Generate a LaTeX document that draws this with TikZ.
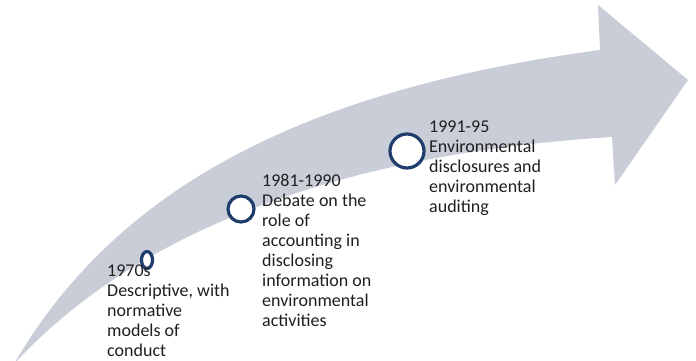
\documentclass[tikz,border=0pt]{standalone}
\usepackage{fontspec}
\setmainfont{Carlito}
\definecolor{arrowgray}{HTML}{C9CDD7}
\definecolor{ringblue}{HTML}{1F3D6C}
\begin{document}
\begin{tikzpicture}[x=1pt,y=-1pt,
  ring/.style={draw=ringblue,fill=white,line width=3.2pt},
  milestone/.style={anchor=north west,inner sep=0pt,align=left,
    font=\fontsize{18}{20}\selectfont,text=black!88}]
\useasboundingbox (0,0) rectangle (696,360);
% curved timeline arrow
\fill[arrowgray] (14,364) .. controls (115,190) and (300,90) .. (600,50)
  -- (598,5) -- (688,80) -- (615,185) -- (612,137)
  .. controls (400,150) and (160,205) .. (14,364) -- cycle;
% milestone rings
\draw[ring] (147,260) ellipse [x radius=5.5pt, y radius=8.5pt];
\node[ring,circle,minimum size=26pt,inner sep=0pt] (r2) at (241,209) {};
\node[ring,circle,minimum size=34pt,inner sep=0pt] (r3) at (407,151) {};
\coordinate (r1) at (147,260);
% milestone texts
\node[milestone] (t1) at (107,265) {1970s\\Descriptive, with\\normative\\models of\\conduct};
\node[milestone] (t2) at (262,174) {1981-1990\\Debate on the\\role of\\accounting in\\disclosing\\information on\\environmental\\activities};
\node[milestone] (t3) at (429,120.5) {1991-95\\Environmental\\disclosures and\\environmental\\auditing};
\end{tikzpicture}
\end{document}
